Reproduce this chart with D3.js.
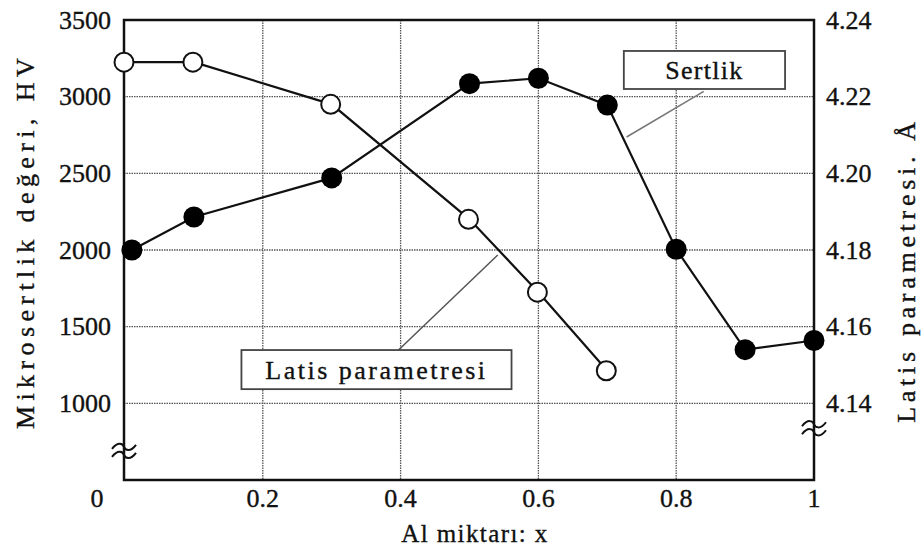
<!DOCTYPE html>
<html>
<head>
<meta charset="utf-8">
<script src="https://cdn.jsdelivr.net/npm/d3@7"></script>
<style>
  body { margin: 0; background: #fff; }
</style>
</head>
<body>
<script>
width = 924;
height = 550;
margin = { left: 125, right: 111, top: 20, bottom: 70 };
serifFont = "'Liberation Serif'";

// Al miktari (x) for each series
sertlikX = [0.01, 0.1, 0.3, 0.5, 0.6, 0.7, 0.8, 0.9, 1.0];
sertlikHV = [2000, 2215, 2470, 3085, 3120, 2945, 2005, 1350, 1410];

latisX = [0, 0.1, 0.3, 0.5, 0.6, 0.7];
latisA = [4.229, 4.229, 4.218, 4.188, 4.169, 4.1485];

xTicks = [0, 0.2, 0.4, 0.6, 0.8, 1];
xTickLabels = ["0", "0.2", "0.4", "0.6", "0.8", "1"];
leftTicks = [1000, 1500, 2000, 2500, 3000, 3500];
rightTicks = [4.14, 4.16, 4.18, 4.20, 4.22, 4.24];

var svg = d3.select("body").append("svg")
    .attr("width", width)
    .attr("height", height);

var xScale = d3.scaleLinear().domain([0, 1])
    .range([margin.left, width - margin.right + 1]);
var yLeft = d3.scaleLinear().domain([500, 3500])
    .range([height - margin.bottom, margin.top]);
var yRight = d3.scaleLinear().domain([4.12, 4.24])
    .range([height - margin.bottom, margin.top]);

var x0 = xScale(0) - 1, x1 = xScale(1), yTop = yLeft(3500), yBot = yLeft(500);

// dotted grid
svg.selectAll(".hgrid")
    .data(leftTicks.filter(function(d) { return d < 3500; }))
    .enter().append("line")
    .attr("class", "hgrid")
    .attr("x1", x0).attr("x2", x1)
    .attr("y1", function(d) { return yLeft(d); })
    .attr("y2", function(d) { return yLeft(d); })
    .attr("stroke", "#555").attr("stroke-width", 1.3)
    .attr("stroke-dasharray", "1.5,1");

svg.selectAll(".vgrid")
    .data(xTicks.filter(function(d) { return d > 0 && d < 1; }))
    .enter().append("line")
    .attr("class", "vgrid")
    .attr("x1", function(d) { return xScale(d); })
    .attr("x2", function(d) { return xScale(d); })
    .attr("y1", yTop).attr("y2", yBot)
    .attr("stroke", "#555").attr("stroke-width", 1.3)
    .attr("stroke-dasharray", "1.5,1");

// frame
svg.append("rect")
    .attr("x", x0).attr("y", yTop)
    .attr("width", x1 - x0).attr("height", yBot - yTop)
    .attr("fill", "none").attr("stroke", "#111").attr("stroke-width", 2.5);

// tick labels only (no tick lines)
svg.selectAll(".leftLabel")
    .data(leftTicks)
    .enter().append("text")
    .attr("class", "leftLabel")
    .attr("x", x0 - 13)
    .attr("y", function(d) { return yLeft(d); })
    .attr("dy", "0.33em")
    .attr("text-anchor", "end")
    .attr("font-size", 26)
    .text(d3.format("d"));

svg.selectAll(".rightLabel")
    .data(rightTicks)
    .enter().append("text")
    .attr("class", "rightLabel")
    .attr("x", x1 + 12)
    .attr("y", function(d) { return yRight(d); })
    .attr("dy", "0.33em")
    .attr("font-size", 26)
    .text(d3.format(".2f"));

svg.selectAll(".xLabel")
    .data(xTicks)
    .enter().append("text")
    .attr("class", "xLabel")
    .attr("x", function(d) { return xScale(d) - (d === 0 ? 28 : 0); })
    .attr("y", yBot + 27)
    .attr("text-anchor", "middle")
    .attr("font-size", 26)
    .text(function(d, i) { return xTickLabels[i]; });

// axis break marks: two small waves across each axis line
var wave = function(cx, cy) {
    var p = "";
    [-4, 4].forEach(function(off) {
        var y = cy + off;
        p += "M" + (cx - 12) + "," + (y + 2) +
             " C" + (cx - 6) + "," + (y - 6) + " " + (cx - 1) + "," + (y - 3) + " " + cx + "," + y +
             " S" + (cx + 6) + "," + (y + 6) + " " + (cx + 12) + "," + (y - 2);
    });
    return p;
};
[[x0, yLeft(690)], [x1, yRight(4.1335)]].forEach(function(p) {
    svg.append("path")
        .attr("d", wave(p[0], p[1]))
        .attr("fill", "none").attr("stroke", "#111").attr("stroke-width", 2);
});

// titles
svg.append("text")
    .attr("transform", "translate(34,241) rotate(-90)")
    .attr("text-anchor", "middle")
    .attr("font-size", 26)
    .attr("letter-spacing", 5.4)
    .text("Mikrosertlik değeri, HV");

svg.append("text")
    .attr("transform", "translate(915,270) rotate(-90)")
    .attr("text-anchor", "middle")
    .attr("font-size", 26)
    .attr("letter-spacing", 4.7)
    .text("Latis parametresi. Å");

svg.append("text")
    .attr("x", 475).attr("y", 542)
    .attr("text-anchor", "middle")
    .attr("font-size", 25)
    .attr("letter-spacing", 1.4)
    .text("Al  miktarı: x");

// annotation leaders and boxes (data coordinates)
var sertlikNote = { x0: 0.724, x1: 0.958, top: 3298, bottom: 3050, lx: 0.84, ly: 3035, px: 0.728, py: 2737, label: "Sertlik", sp: 1.3 };
var latisNote = { x0: 0.169, x1: 0.561, top: 4.1539, bottom: 4.1437, lx: 0.397, ly: 4.1539, px: 0.541, py: 4.1787, label: "Latis parametresi", sp: 2.5 };

svg.append("line")
    .attr("x1", xScale(sertlikNote.lx)).attr("y1", yLeft(sertlikNote.ly))
    .attr("x2", xScale(sertlikNote.px)).attr("y2", yLeft(sertlikNote.py))
    .attr("stroke", "#777").attr("stroke-width", 1.5);
svg.append("line")
    .attr("x1", xScale(latisNote.lx)).attr("y1", yRight(latisNote.ly))
    .attr("x2", xScale(latisNote.px)).attr("y2", yRight(latisNote.py))
    .attr("stroke", "#555").attr("stroke-width", 1.5);

// series lines
var latisPts = latisX.map(function(x, i) { return [x, latisA[i]]; });
var sertPts = sertlikX.map(function(x, i) { return [x, sertlikHV[i]]; });

svg.append("path")
    .datum(latisPts)
    .attr("fill", "none").attr("stroke", "#111").attr("stroke-width", 2.2)
    .attr("d", d3.line()
        .x(function(d) { return xScale(d[0]); })
        .y(function(d) { return yRight(d[1]); }));

svg.append("path")
    .datum(sertPts)
    .attr("fill", "none").attr("stroke", "#111").attr("stroke-width", 2.2)
    .attr("d", d3.line()
        .x(function(d) { return xScale(d[0]); })
        .y(function(d) { return yLeft(d[1]); }));

svg.selectAll(".latisDot")
    .data(latisPts)
    .enter().append("circle")
    .attr("class", "latisDot")
    .attr("cx", function(d) { return xScale(d[0]) - 1; })
    .attr("cy", function(d) { return yRight(d[1]); })
    .attr("r", 9.5)
    .attr("fill", "#fff").attr("stroke", "#111").attr("stroke-width", 2);

svg.selectAll(".sertDot")
    .data(sertPts)
    .enter().append("circle")
    .attr("class", "sertDot")
    .attr("cx", function(d) { return xScale(d[0]); })
    .attr("cy", function(d) { return yLeft(d[1]); })
    .attr("r", 10.5)
    .attr("fill", "#000");

// boxes
[[sertlikNote, yLeft], [latisNote, yRight]].forEach(function(pair) {
    var n = pair[0], ys = pair[1];
    var bx = xScale(n.x0), bw = xScale(n.x1) - bx;
    var by = ys(n.top), bh = ys(n.bottom) - by;
    svg.append("rect")
        .attr("x", bx).attr("y", by).attr("width", bw).attr("height", bh)
        .attr("fill", "#fff").attr("stroke", "#444").attr("stroke-width", 1.8);
    svg.append("text")
        .attr("x", bx + bw / 2).attr("y", by + bh / 2 + 9)
        .attr("text-anchor", "middle")
        .attr("font-size", 26)
        .attr("letter-spacing", n.sp)
        .text(n.label);
});

// serif face on every text, set inline; a hairline stroke thickens it like the scan
svg.selectAll("text")
    .style("font-family", serifFont)
    .style("fill", "#111")
    .style("stroke", "#111")
    .style("stroke-width", "0.35px");
</script>
</body>
</html>
